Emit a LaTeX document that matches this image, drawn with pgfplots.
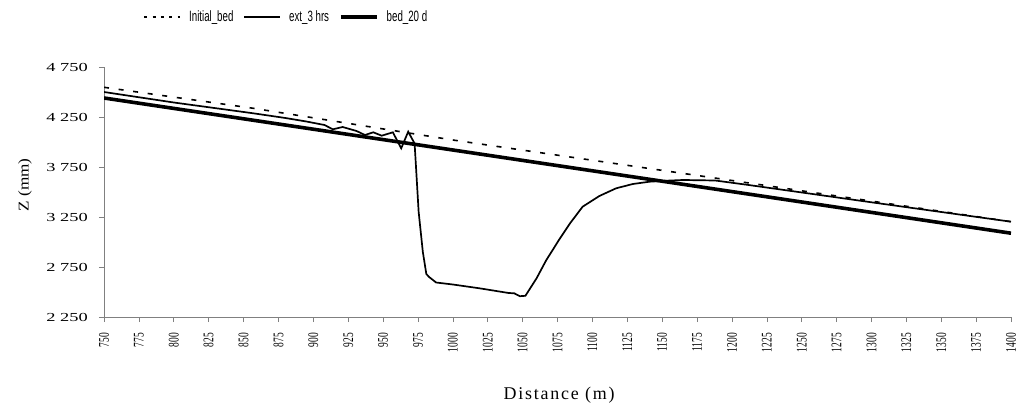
\documentclass[border=0pt]{standalone}
\usepackage{fontspec}
\setmainfont{Liberation Serif}
\usepackage{graphicx}
\usepackage{pgfplots}
\pgfplotsset{compat=1.18}
\newfontfamily\legfont{Liberation Sans}
\newfontfamily\xlabfont[LetterSpace=10]{Liberation Serif}
\newcommand\ysc[1]{\scalebox{1.5}[1]{\fontsize{12.3}{14}\selectfont #1}}
\newcommand\xsc[1]{\scalebox{0.64}[1]{\fontsize{14.8}{16}\selectfont #1}}
\newcommand\lsc[1]{\scalebox{0.65}[1]{\legfont\fontsize{15}{16}\selectfont #1}}

\begin{document}
\begin{tikzpicture}
\useasboundingbox (0,0) rectangle (1017bp,410bp);
\begin{axis}[
  at={(104bp,93bp)}, anchor=south west,
  scale only axis, width=907bp, height=250bp,
  xmin=750, xmax=1400, ymin=2250, ymax=4750,
  axis x line*=bottom, axis y line*=left,
  axis line style={gray, line width=0.8bp},
  tick align=outside, major tick length=5bp,
  tick style={gray, line width=0.6bp},
  xtick={750,775,800,825,850,875,900,925,950,975,1000,1025,1050,1075,1100,1125,1150,1175,1200,1225,1250,1275,1300,1325,1350,1375,1400},
  xticklabels={\xsc{750},\xsc{775},\xsc{800},\xsc{825},\xsc{850},\xsc{875},\xsc{900},\xsc{925},\xsc{950},\xsc{975},\xsc{1000},\xsc{1025},\xsc{1050},\xsc{1075},\xsc{1100},\xsc{1125},\xsc{1150},\xsc{1175},\xsc{1200},\xsc{1225},\xsc{1250},\xsc{1275},\xsc{1300},\xsc{1325},\xsc{1350},\xsc{1375},\xsc{1400}},
  ytick={2250,2750,3250,3750,4250,4750},
  yticklabels={\ysc{2 250},\ysc{2 750},\ysc{3 250},\ysc{3 750},\ysc{4 250},\ysc{4 750}},
  xticklabel style={yshift=-11bp, rotate=90, anchor=east, inner sep=0pt},
  yticklabel style={anchor=east, inner sep=0pt, xshift=-11bp},
  xlabel={Distance (m)},
  xlabel style={font=\xlabfont\fontsize{18}{20}\selectfont, at={(axis description cs:0.5017,-0.312)}, anchor=center},
  ylabel={\scalebox{1.15}[1]{\fontsize{15}{17}\selectfont Z (mm)}},
  ylabel style={at={(axis description cs:-0.0871,0.528)}, anchor=center},
  legend columns=3,
  legend style={at={(axis description cs:0.2,1.2)}, anchor=center, draw=none, fill=none,
    /tikz/every odd column/.append style={column sep=8bp},
    /tikz/every even column/.append style={column sep=10bp},
    nodes={inner sep=0pt}},
  legend image code/.code={\draw[#1] (0bp,0bp) -- (36bp,0bp);},
]
\addplot[black, line width=1.6bp, dash pattern=on 5bp off 9.7bp, forget plot] coordinates {
 (750,4547) (857,4337) (1000,4020) (1200,3615) (1400,3203)};
\addplot[black, line width=1.7bp, forget plot] coordinates {
 (750,4500) (800,4395) (857,4287) (880,4240) (895,4205) (908,4170) (914,4127)
 (921,4150) (931,4110) (937,4070) (943,4097) (949,4063) (957,4097) (963,3937)
 (968,4103) (972.6,3985) (975.5,3300) (978.5,2900) (981,2680) (983,2650)
 (988,2595) (1000,2575) (1020,2535) (1040,2490) (1044,2487) (1048,2458)
 (1052,2462) (1060,2637) (1067,2820) (1072,2930) (1076,3020) (1084,3187)
 (1093,3353) (1105,3460) (1117,3537) (1129,3580) (1141,3603) (1153,3613)
 (1165,3620) (1188,3615) (1212,3570) (1300,3397) (1400,3203)};
\addplot[black, line width=3.6bp, forget plot] coordinates {
 (750,4440) (1400,3088)};
\addlegendimage{black, line width=1.6bp, dash pattern=on 3bp off 5.3bp}
\addlegendentry{\lsc{Initial\_bed}}
\addlegendimage{black, line width=1.7bp}
\addlegendentry{\lsc{ext\_3 hrs}}
\addlegendimage{black, line width=3.6bp}
\addlegendentry{\lsc{bed\_20 d}}
\end{axis}
\end{tikzpicture}
\end{document}
